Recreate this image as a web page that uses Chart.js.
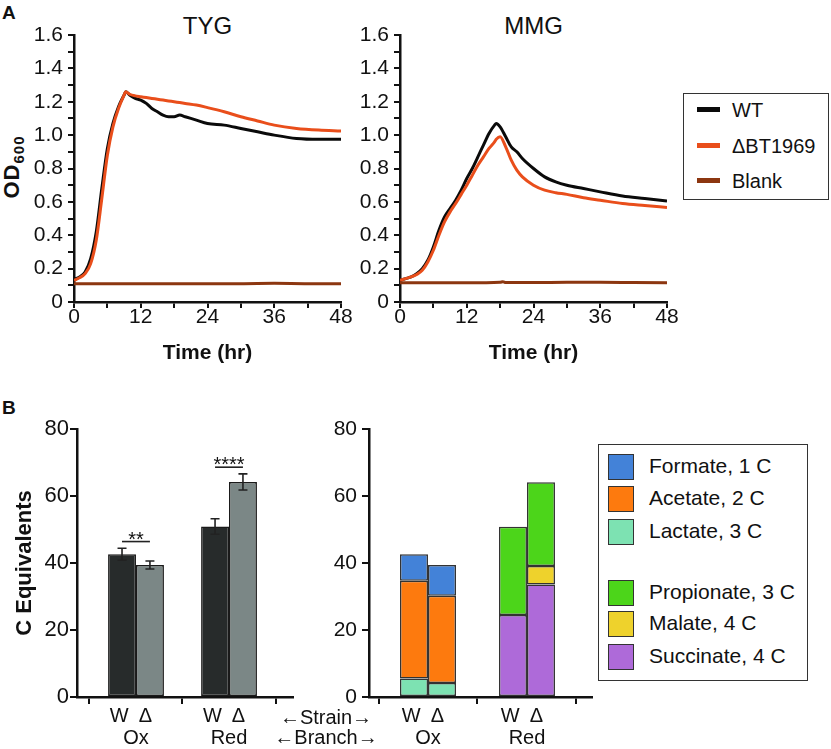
<!DOCTYPE html>
<html><head><meta charset="utf-8">
<script src="https://cdn.jsdelivr.net/npm/chart.js@4.4.0/dist/chart.umd.min.js"></script>
<style>
html,body{margin:0;padding:0;background:#fff;}
body{width:831px;height:749px;position:relative;overflow:hidden;font-family:'Liberation Sans',Arial,sans-serif;color:#111;}
canvas{position:absolute;}
.t{position:absolute;white-space:nowrap;line-height:1;}
.box{position:absolute;box-sizing:border-box;border:1.5px solid #333;background:#fff;}
.ln{position:absolute;height:5px;width:23px;left:13px;}
.sw{position:absolute;box-sizing:border-box;width:26px;height:26px;left:9px;border:1.5px solid #333;}
sub{font-size:15px;vertical-align:-5px;line-height:0;}
</style></head><body>
<div class="t" style="left:2px;top:3px;font-size:19px;font-weight:bold;">A</div>
<div class="t" style="left:2px;top:398px;font-size:19px;font-weight:bold;">B</div>
<div class="t" style="left:74px;width:267px;text-align:center;top:14px;font-size:24px;">TYG</div>
<div class="t" style="left:400px;width:267px;text-align:center;top:14px;font-size:24px;">MMG</div>
<div class="t" style="left:12px;top:167px;font-size:22px;font-weight:bold;letter-spacing:1px;transform:translate(-50%,-50%) rotate(-90deg);">OD<sub>600</sub></div>

<canvas id="c1" width="360" height="370" style="left:0;top:0"></canvas>
<canvas id="c2" width="340" height="370" style="left:340px;top:0"></canvas>
<canvas id="c3" width="300" height="369" style="left:0;top:380px"></canvas>
<canvas id="c4" width="300" height="369" style="left:300px;top:380px"></canvas>

<div class="box" id="legA" style="left:683px;top:93px;width:146px;height:107px;"></div>
<div class="box" id="legB" style="left:598px;top:444px;width:210px;height:237px;"></div>

<div class="t" style="left:256px;width:140px;text-align:center;top:707px;font-size:20px;">←Strain→</div>
<div class="t" style="left:256px;width:140px;text-align:center;top:727px;font-size:20px;">←Branch→</div>

<script>
// ---------- Panel A data (OD600 vs time, hr) ----------
const tygTime  = [0,1,2,3,4,5,6,7,8,9,9.3,10,11,12,13,14,15,16,17,18,19,20,22,24,27,30,33,36,40,44,48];
const tygWT    = [0.135,0.15,0.18,0.26,0.42,0.68,0.92,1.07,1.17,1.24,1.26,1.24,1.22,1.21,1.19,1.16,1.14,1.12,1.11,1.11,1.12,1.11,1.09,1.07,1.06,1.04,1.02,1.00,0.98,0.975,0.975];
const tygDelta = [0.13,0.145,0.17,0.23,0.37,0.62,0.88,1.05,1.16,1.24,1.26,1.245,1.235,1.23,1.225,1.22,1.215,1.21,1.205,1.2,1.195,1.19,1.18,1.165,1.14,1.11,1.085,1.06,1.04,1.03,1.025];

const mmgTime  = [0,1,2,3,4,5,6,7,8,9,10,11,12,13,14,15,16,17,17.3,18,19,20,21,22,24,26,28,30,33,36,40,44,48];
const mmgWT    = [0.13,0.14,0.15,0.17,0.2,0.25,0.33,0.43,0.51,0.56,0.61,0.67,0.74,0.8,0.87,0.94,1.01,1.06,1.07,1.05,0.99,0.93,0.9,0.86,0.8,0.75,0.72,0.7,0.68,0.66,0.635,0.62,0.605];
const mmgDelta = [0.13,0.14,0.15,0.165,0.19,0.24,0.31,0.4,0.48,0.54,0.59,0.645,0.7,0.76,0.82,0.87,0.92,0.96,0.975,0.99,0.93,0.85,0.79,0.75,0.7,0.67,0.655,0.645,0.625,0.61,0.59,0.578,0.567];

const blankTime = [0,6,12,18,18.5,19,24,30,36,42,48];
const blankTYG  = [0.11,0.11,0.11,0.11,0.11,0.11,0.11,0.11,0.112,0.11,0.11];
const blankMMG  = [0.115,0.115,0.115,0.118,0.122,0.117,0.117,0.118,0.118,0.117,0.116];

const lineSeries = ['WT', 'ΔBT1969', 'Blank'];
const lineColors = ['#0a0a0a', '#e94e1b', '#8c3610'];

// ---------- Panel B data (C equivalents) ----------
const branches = ['Ox', 'Red'];
const strains  = ['W', 'Δ'];
const strainTick = 'W\u2002Δ\u2002';
const meanW = [42.6, 50.9];
const meanD = [39.4, 64.2];
const errW  = [1.8, 2.3];
const errD  = [1.2, 2.4];
const sigMarks = ['**', '****'];

const components = ['Formate, 1 C','Acetate, 2 C','Lactate, 3 C','Propionate, 3 C','Malate, 4 C','Succinate, 4 C'];
const compColors = ['#4382d8','#fd7a0e','#7de2b2','#4cd51a','#eed22c','#ae6ad9'];
// values per branch [Ox, Red]
const formateW    = [7.9, null],  formateD    = [9.2, null];
const acetateW    = [29.2, null], acetateD    = [26.0, null];
const lactateW    = [5.5, null],  lactateD    = [4.2, null];
const propionateW = [null, 26.3], propionateD = [null, 25.0];
const malateW     = [null, null], malateD     = [null, 5.5];
const succinateW  = [null, 24.5], succinateD  = [null, 33.6];

// ---------- helpers ----------
Chart.defaults.font.family = "'Liberation Sans', Arial, sans-serif";
Chart.defaults.color = '#111';
const INK = '#111';

const xy = (xs, ys) => xs.map((x, i) => ({x, y: ys[i]}));

function lineChart(id, time, wt, delta, blank, yWidth, padRight) {
  const sets = [[time, wt], [time, delta], [blankTime, blank]];
  return new Chart(document.getElementById(id), {
    type: 'line',
    data: {
      datasets: sets.map((s, i) => ({
        label: lineSeries[i], data: xy(s[0], s[1]),
        borderColor: lineColors[i], borderWidth: 3, pointRadius: 0,
        cubicInterpolationMode: 'monotone', order: [1, 0, 2][i], fill: false
      }))
    },
    options: {
      responsive: false, animation: false,
      layout: {padding: {top: 35, right: padRight, left: 0, bottom: 0}},
      plugins: {legend: {display: false}, tooltip: {enabled: false}},
      scales: {
        x: {
          type: 'linear', min: 0, max: 48,
          ticks: {stepSize: 6, autoSkip: false, maxRotation: 0, font: {size: 21}, color: INK, padding: -3,
                  callback: v => (v % 12 === 0 ? String(v) : '')},
          grid: {drawOnChartArea: false, drawTicks: true, tickLength: 6, color: INK, lineWidth: 2},
          border: {display: true, color: INK, width: 2.5},
          title: {display: true, text: 'Time (hr)', font: {size: 21, weight: 'bold'}, color: INK, padding: {top: 0, bottom: 4}},
          afterFit: s => { s.height = 68; s.paddingLeft = 0; s.paddingRight = 0; }
        },
        y: {
          type: 'linear', min: 0, max: 1.6,
          ticks: {stepSize: 0.1, autoSkip: false, font: {size: 21}, color: INK, padding: 5,
                  callback: v => { const k = Math.round(v * 10); return k % 2 ? '' : (k === 0 ? '0' : (k / 10).toFixed(1)); }},
          grid: {drawOnChartArea: false, drawTicks: true, tickLength: 6, color: INK, lineWidth: 2},
          border: {display: true, color: INK, width: 2.5},
          afterFit: s => { s.width = yWidth; s.paddingTop = 0; s.paddingBottom = 0; }
        }
      }
    }
  });
}

lineChart('c1', tygTime, tygWT, tygDelta, blankTYG, 74, 19);
lineChart('c2', mmgTime, mmgWT, mmgDelta, blankMMG, 60, 13);

// error bars + significance
const errPlugin = {
  id: 'errbars',
  afterDatasetsDraw(chart) {
    const ctx = chart.ctx, ys = chart.scales.y;
    ctx.save();
    ctx.strokeStyle = '#222'; ctx.lineWidth = 1.6;
    chart.data.datasets.forEach((ds, i) => {
      const meta = chart.getDatasetMeta(i);
      meta.data.forEach((bar, j) => {
        const m = ds.data[j].y, e = ds.errors[j];
        const y1 = ys.getPixelForValue(m + e), y2 = ys.getPixelForValue(m - e);
        ctx.beginPath();
        ctx.moveTo(bar.x, y1); ctx.lineTo(bar.x, y2);
        ctx.moveTo(bar.x - 4.5, y1); ctx.lineTo(bar.x + 4.5, y1);
        ctx.moveTo(bar.x - 4.5, y2); ctx.lineTo(bar.x + 4.5, y2);
        ctx.stroke();
      });
    });
    const m0 = chart.getDatasetMeta(0), m1 = chart.getDatasetMeta(1);
    ctx.fillStyle = '#111'; ctx.textAlign = 'center'; ctx.textBaseline = 'alphabetic';
    ctx.font = "20px 'Liberation Sans', Arial, sans-serif";
    branches.forEach((b, j) => {
      const top = Math.max(meanW[j] + errW[j], meanD[j] + errD[j]) + 2;
      const y = ys.getPixelForValue(top);
      const xa = m0.data[j].x, xb = m1.data[j].x;
      ctx.beginPath(); ctx.moveTo(xa, y); ctx.lineTo(xb, y); ctx.stroke();
      ctx.fillText(sigMarks[j], (xa + xb) / 2, y + 4);
    });
    ctx.restore();
  }
};

function barXScale(min, max) {
  return {
    type: 'linear', min, max, offset: false,
    afterBuildTicks: s => { s.ticks = branches.map((b, i) => ({value: i})); },
    ticks: {autoSkip: false, maxRotation: 0, font: {size: 20, lineHeight: 1.1}, color: INK, padding: 1,
            callback: v => [strainTick, branches[Math.round(v)]]},
    grid: {drawOnChartArea: false, drawTicks: true, tickLength: 7, color: INK, lineWidth: 2},
    border: {display: true, color: INK, width: 2.5},
    afterFit: s => { s.height = 52; s.paddingLeft = 0; s.paddingRight = 0; }
  };
}
function barYScale(width, fontSize, pad, stacked, withTitle) {
  return {
    type: 'linear', min: 0, max: 80, stacked,
    ticks: {stepSize: 20, autoSkip: false, font: {size: fontSize}, color: INK, padding: pad},
    grid: {drawOnChartArea: false, drawTicks: true, tickLength: 7, color: INK, lineWidth: 2},
    border: {display: true, color: INK, width: 2.5},
    title: {display: withTitle, text: 'C Equivalents', font: {size: 22, weight: 'bold'}, color: INK, padding: {top: 12, bottom: 0}},
    afterFit: s => { s.width = width; s.paddingTop = 0; s.paddingBottom = 0; }
  };
}

new Chart(document.getElementById('c3'), {
  type: 'bar',
  data: {
    datasets: [
      {label: strains[0], data: xy([0, 1], meanW), errors: errW, backgroundColor: '#272b2b', borderColor: '#1a1a1a', borderWidth: 1.5, borderSkipped: false},
      {label: strains[1], data: xy([0, 1], meanD), errors: errD, backgroundColor: '#7b8786', borderColor: '#1a1a1a', borderWidth: 1.5, borderSkipped: false}
    ]
  },
  options: {
    responsive: false, animation: false,
    categoryPercentage: 0.6, barPercentage: 1.0,
    layout: {padding: {top: 49, right: 7, left: 0, bottom: 0}},
    plugins: {legend: {display: false}, tooltip: {enabled: false}},
    scales: {x: barXScale(-0.634, 1.688), y: barYScale(77, 22, 1, false, true)}
  },
  plugins: [errPlugin]
});

const stackSets = [
  ['Lactate, 3 C', lactateW, lactateD],
  ['Acetate, 2 C', acetateW, acetateD],
  ['Formate, 1 C', formateW, formateD],
  ['Succinate, 4 C', succinateW, succinateD],
  ['Malate, 4 C', malateW, malateD],
  ['Propionate, 3 C', propionateW, propionateD]
];
const stackDatasets = [];
stackSets.forEach(([name, w, d]) => {
  const color = compColors[components.indexOf(name)];
  [[strains[0], w], [strains[1], d]].forEach(([s, vals]) => {
    stackDatasets.push({label: name + ' ' + s, stack: s, data: xy([0, 1], vals),
      backgroundColor: color, borderColor: '#333', borderWidth: 1.5, borderSkipped: false});
  });
});

new Chart(document.getElementById('c4'), {
  type: 'bar',
  data: {datasets: stackDatasets},
  options: {
    responsive: false, animation: false,
    categoryPercentage: 0.566, barPercentage: 1.0,
    layout: {padding: {top: 49, right: 8, left: 0, bottom: 0}},
    plugins: {legend: {display: false}, tooltip: {enabled: false}},
    scales: {x: Object.assign(barXScale(-0.596, 1.657), {stacked: true}), y: barYScale(69, 21, 5, true, false)}
  }
});

// ---------- HTML legends ----------
const legA = document.getElementById('legA');
const rowsA = [17, 53, 88];
lineSeries.forEach((name, i) => {
  const l = document.createElement('div'); l.className = 'ln';
  l.style.top = (rowsA[i] - 4) + 'px'; l.style.background = lineColors[i]; legA.appendChild(l);
  const t = document.createElement('div'); t.className = 't'; t.textContent = name;
  t.style.left = '48px'; t.style.top = (rowsA[i] - 11.5) + 'px'; t.style.fontSize = '20px'; legA.appendChild(t);
});
const legB = document.getElementById('legB');
const rowsB = [22, 54, 87, 148, 179, 212];
components.forEach((name, i) => {
  const s = document.createElement('div'); s.className = 'sw';
  s.style.top = (rowsB[i] - 13) + 'px'; s.style.background = compColors[i]; legB.appendChild(s);
  const t = document.createElement('div'); t.className = 't'; t.textContent = name;
  t.style.left = '50px'; t.style.top = (rowsB[i] - 12) + 'px'; t.style.fontSize = '21px'; legB.appendChild(t);
});
</script>
</body></html>
